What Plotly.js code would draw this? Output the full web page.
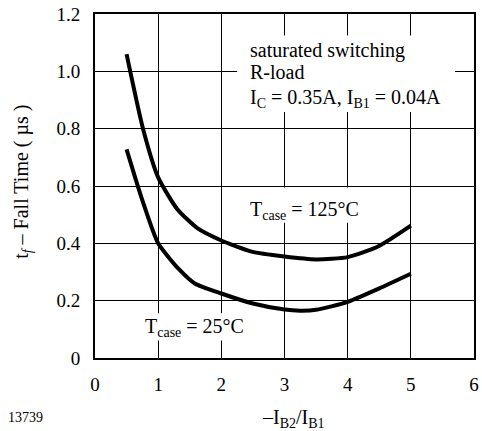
<!DOCTYPE html>
<html><head><meta charset="utf-8">
<script src="https://cdn.plot.ly/plotly-3.0.1.min.js"></script>
<style>body{margin:0;background:#fff}#c{width:482px;height:431px}</style>
</head><body><div id="c"></div>
<script>
// Fall time vs -IB2/IB1
const ratio125 = [0.5, 0.76, 1.0, 1.3, 1.62, 2.0, 2.48, 3.0, 3.5, 4.0, 4.48, 5.0];
const tf125    = [1.06, 0.80, 0.63, 0.52, 0.453, 0.41, 0.371, 0.354, 0.344, 0.352, 0.389, 0.462];
const ratio25  = [0.5, 0.75, 1.0, 1.34, 1.58, 2.0, 2.5, 3.0, 3.25, 3.5, 4.0, 4.5, 5.0];
const tf25     = [0.728, 0.55, 0.40, 0.307, 0.26, 0.225, 0.19, 0.169, 0.165, 0.168, 0.196, 0.243, 0.294];
const xTicks = [0, 1, 2, 3, 4, 5, 6];
const xTickText = ['0', '1', '2', '3', '4', '5', '6'];
const yTicks = [0, 0.2, 0.4, 0.6, 0.8, 1.0, 1.2];
const yTickText = ['0', '0.2', '0.4', '0.6', '0.8', '1.0', '1.2'];

const F = 'Liberation Serif';
const line = {color: '#000', width: 4, shape: 'spline', smoothing: 0.6};
const traces = [
  {x: ratio125, y: tf125, mode: 'lines', line: line, hoverinfo: 'skip'},
  {x: ratio25, y: tf25, mode: 'lines', line: line, hoverinfo: 'skip'}
];
const white = (x0, x1, y0, y1) => ({type: 'rect', xref: 'x', yref: 'y', x0, x1, y0, y1,
  fillcolor: '#fff', line: {width: 0}, layer: 'between'});
const ann = (x, y, text, size, extra) => Object.assign({x, y, text, showarrow: false,
  xref: 'x', yref: 'y', xanchor: 'left', yanchor: 'middle', font: {family: F, size: size || 20, color: '#000'}}, extra || {});

const layout = {
  width: 482, height: 431,
  margin: {l: 95, r: 8, t: 14, b: 73},
  paper_bgcolor: '#fff', plot_bgcolor: '#fff',
  showlegend: false,
  font: {family: F, color: '#000'},
  xaxis: {range: [0, 6], tickvals: xTicks, ticktext: xTickText, ticks: '', showgrid: true,
    gridcolor: '#000', gridwidth: 1, showline: true, linecolor: '#000', linewidth: 2, mirror: true,
    zeroline: false, tickfont: {family: F, size: 19, color: '#000'}, ticklabelstandoff: 8, fixedrange: true},
  yaxis: {range: [0, 1.2], tickvals: yTicks, ticktext: yTickText, ticks: '', showgrid: true,
    gridcolor: '#000', gridwidth: 1, showline: true, linecolor: '#000', linewidth: 2, mirror: true,
    zeroline: false, tickfont: {family: F, size: 19, color: '#000'}, ticklabelstandoff: 9, fixedrange: true},
  shapes: [
    white(2.25, 5.70, 0.858, 1.125),
    white(2.37, 4.19, 0.472, 0.595),
    white(0.76, 2.37, 0.061, 0.156)
  ],
  annotations: [
    ann(2.42, 1.072, 'saturated switching'),
    ann(2.42, 0.998, 'R-load'),
    ann(2.42, 0.905, 'I<sub>C</sub> = 0.35A, I<sub>B1</sub> = 0.04A'),
    ann(2.42, 0.515, 'T<sub>case</sub> = 125°C'),
    ann(0.76, 0.105, 'T<sub>case</sub> = 25°C'),
    {xref: 'paper', yref: 'paper', x: 0.525, y: -0.177, text: '–I<sub>B2</sub>/I<sub>B1</sub>', showarrow: false,
      xanchor: 'center', yanchor: 'middle', font: {family: F, size: 20, color: '#000'}},
    {xref: 'paper', yref: 'paper', x: -0.183, y: -0.174, text: '13739', showarrow: false,
      xanchor: 'center', yanchor: 'middle', font: {family: F, size: 14, color: '#000'}},
    {xref: 'paper', yref: 'paper', x: -0.19, y: 0.512, text: 't<sub><i>f</i></sub> – Fall Time ( µs )', showarrow: false,
      textangle: -90, xanchor: 'center', yanchor: 'middle', font: {family: F, size: 20, color: '#000'}}
  ]
};
Plotly.newPlot('c', traces, layout, {displayModeBar: false, staticPlot: true});
</script>
</body></html>
